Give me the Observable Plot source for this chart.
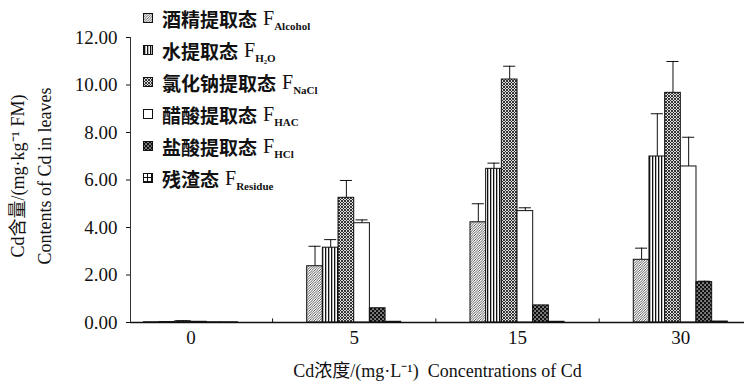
<!DOCTYPE html>
<html>
<head>
<meta charset="utf-8">
<script src="https://cdn.jsdelivr.net/npm/d3@7"></script>
<script src="https://cdn.jsdelivr.net/npm/@observablehq/plot@0.6"></script>
<style>
  body { margin: 0; background: #fff; }
  #wrap { position: relative; width: 744px; height: 385px; }
  #chart svg { font-family: "Liberation Serif", "Noto Sans CJK SC", serif !important; font-size: 19px !important; color: #111; }
  #chart svg text { font-family: "Liberation Serif", "Noto Sans CJK SC", serif; }
  #legend { position: absolute; left: 143px; top: 2px; }
  .row { height: 32px; display: flex; align-items: center; white-space: nowrap; }
  .row svg { margin-right: 9px; flex: none; }
  .cn { font-family: "Noto Sans CJK SC", sans-serif; font-weight: 700; font-size: 19px; color: #111; }
  .f { font-family: "Liberation Serif", serif; font-size: 20px; margin-left: 6px; color: #111; }
  .sub { font-family: "Liberation Serif", serif; font-weight: 700; font-size: 11px; position: relative; top: 8px; color: #111; }
</style>
</head>
<body>
<svg width="0" height="0" style="position:absolute">
  <defs>
    <pattern id="pAlcohol" patternUnits="userSpaceOnUse" width="2.5" height="2.5">
      <rect width="2.5" height="2.5" fill="#fff"/>
      <path d="M-1,1 L1,-1 M0,2.5 L2.5,0 M1.5,3.5 L3.5,1.5" stroke="#333" stroke-width="0.8"/>
    </pattern>
    <pattern id="pH2O" patternUnits="userSpaceOnUse" width="3" height="3">
      <rect width="3" height="3" fill="#fff"/>
      <rect x="1" width="1.3" height="3" fill="#111"/>
    </pattern>
    <pattern id="pNaCl" patternUnits="userSpaceOnUse" width="3" height="3">
      <rect width="3" height="3" fill="#ddd"/>
      <path d="M-1,1 L1,-1 M0,3 L3,0 M2,4 L4,2 M-1,2 L1,4 M0,0 L3,3 M2,-1 L4,1" stroke="#222" stroke-width="0.9"/>
    </pattern>
    <pattern id="pHAC" patternUnits="userSpaceOnUse" width="3" height="3">
      <rect width="3" height="3" fill="#fff"/>
    </pattern>
    <pattern id="pHCl" patternUnits="userSpaceOnUse" width="4" height="4">
      <rect width="4" height="4" fill="#111"/>
      <rect x="0.4" y="0.4" width="1.3" height="1.3" fill="#fff"/>
      <rect x="2.4" y="2.4" width="1.3" height="1.3" fill="#fff"/>
    </pattern>
    <pattern id="pResidue" patternUnits="userSpaceOnUse" width="4" height="4">
      <rect width="4" height="4" fill="#fff"/>
      <path d="M0,0.5 H4 M0.5,0 V4" stroke="#111" stroke-width="1"/>
    </pattern>
  </defs>
</svg>
<div id="wrap">
  <div id="chart"></div>
  <div id="legend"></div>
</div>
<script>
// ---- data ----
const concentrations = ["0", "5", "15", "30"];
const fractions = ["Alcohol", "H2O", "NaCl", "HAC", "HCl", "Residue"];
const fractionNames = ["酒精提取态", "水提取态", "氯化钠提取态", "醋酸提取态", "盐酸提取态", "残渣态"];
const fractionSubs = ["Alcohol", "H\u2082O", "NaCl", "HAC", "HCl", "Residue"];

const alcohol   = [0.01, 2.37, 4.22, 2.64];
const alcoholSD = [0,    0.84, 0.78, 0.49];
const h2o       = [0.02, 3.15, 6.47, 6.99];
const h2oSD     = [0,    0.34, 0.24, 1.80];
const nacl      = [0.05, 5.25, 10.23, 9.67];
const naclSD    = [0.02, 0.73, 0.56, 1.32];
const hac       = [0.03, 4.18, 4.69, 6.57];
const hacSD     = [0,    0.14, 0.14, 1.23];
const hcl       = [0.01, 0.60, 0.72, 1.70];
const hclSD     = [0,    0,    0,    0.04];
const residue   = [0.01, 0.03, 0.03, 0.04];
const residueSD = [0,    0,    0,    0];

const yTicks = [0, 2, 4, 6, 8, 10, 12];
const yTitle1 = "Cd含量/(mg·kg\u207B\u00B9 FM)";
const yTitle2 = "Contents of Cd in leaves";
const xTitle = "Cd浓度/(mg·L\u207B\u00B9)\u00A0\u00A0Concentrations of Cd";

// ---- table ----
const seriesValues = [alcohol, h2o, nacl, hac, hcl, residue];
const seriesSD = [alcoholSD, h2oSD, naclSD, hacSD, hclSD, residueSD];
const rows = [];
concentrations.forEach((c, gi) => {
  fractions.forEach((f, si) => {
    rows.push({conc: c, gi, si, fraction: f, value: seriesValues[si][gi], sd: seriesSD[si][gi]});
  });
});
const errRows = rows.filter(d => d.sd > 0);

const barW = 0.096;      // bar width in group units
const capHalf = 0.037;   // half cap width in group units
const xDomain = [-0.37, 3.39];
const groupIdx = concentrations.map((c, i) => i);
const boundaries = groupIdx.slice(1).map(i => i - 0.5);
const left = d => d.gi + (d.si - 3) * barW;
const mid = d => d.gi + (d.si - 2.5) * barW;
const serif = "Liberation Serif, Noto Sans CJK SC, serif";

const chart = Plot.plot({
  width: 744,
  height: 385,
  marginLeft: 130,
  marginRight: 0,
  marginTop: 37,
  marginBottom: 63,
  x: {domain: xDomain, ticks: groupIdx, tickFormat: i => concentrations[i], tickSize: 0, tickPadding: 8, label: null},
  y: {domain: [0, 12], ticks: yTicks, tickFormat: d3.format(".2f"), tickSize: 4, tickPadding: 9, label: null},
  color: {domain: fractions, range: fractions.map(f => `url(#p${f})`)},
  marks: [
    Plot.rectY(rows, {x1: left, x2: d => left(d) + barW, y: "value", fill: "fraction", stroke: "#111", strokeWidth: 1}),
    Plot.ruleX(errRows, {x: mid, y1: "value", y2: d => d.value + d.sd, stroke: "#111", strokeWidth: 1}),
    Plot.ruleY(errRows, {y: d => d.value + d.sd, x1: d => mid(d) - capHalf, x2: d => mid(d) + capHalf, stroke: "#111", strokeWidth: 1}),
    Plot.ruleY([0], {stroke: "#111", strokeWidth: 1.5}),
    Plot.ruleX([xDomain[0]], {y1: 0, y2: 12, stroke: "#333", strokeWidth: 1}),
    Plot.ruleX(boundaries, {y1: 0, y2: 0.15, stroke: "#111", strokeWidth: 1}),
    Plot.text([yTitle1], {frameAnchor: "left", textAnchor: "middle", dx: -112, dy: -4, rotate: -90, fontSize: 18, fontFamily: serif, fill: "#111"}),
    Plot.text([yTitle2], {frameAnchor: "left", textAnchor: "middle", dx: -85, dy: -4, rotate: -90, fontSize: 18, fontFamily: serif, fill: "#111"}),
    Plot.text([xTitle], {frameAnchor: "bottom", dy: 54, fontSize: 18, fontFamily: serif, fill: "#111"})
  ]
});
document.getElementById("chart").append(chart);

// ---- legend ----
const legend = document.getElementById("legend");
fractions.forEach((f, i) => {
  const row = document.createElement("div");
  row.className = "row";
  row.innerHTML = `<svg width="10" height="10"><rect x="0.5" y="0.5" width="9" height="9" fill="url(#p${f})" stroke="#111" stroke-width="1"/></svg>` +
    `<span class="cn">${fractionNames[i]}</span><span class="f">F</span><span class="sub">${fractionSubs[i]}</span>`;
  legend.append(row);
});
</script>
</body>
</html>
